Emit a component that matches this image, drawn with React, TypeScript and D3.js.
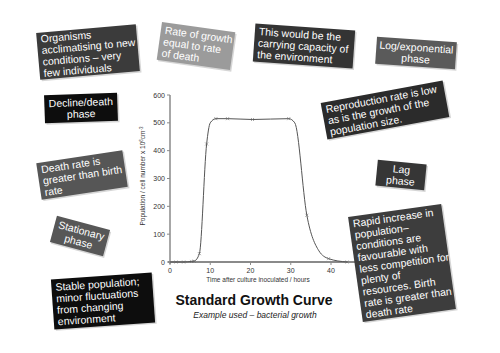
import React from "react";
import * as d3 from "d3";

const timeHours = [1.5, 3.4, 5.4, 6.0, 7.3, 9.1, 11.4, 14.3, 20.5, 29.5, 34.0, 39.4, 44.0];
const population = [0, 0, 2, 3, 30, 424, 515, 515, 512, 515, 168, 12, 0];
const curveTime = [0, 1.5, 3.4, 5.4, 6.0, 7.3, 9.1, 10.0, 11.4, 14.3, 20.5, 29.5, 31.0, 34.0, 37.0, 39.4, 44.0];
const curvePop = [0, 0, 0, 2, 3, 30, 424, 500, 515, 515, 512, 515, 500, 168, 40, 12, 0];
const yTicks = [0, 100, 200, 300, 400, 500, 600];
const xTicks = [0, 10, 20, 30, 40];

const boxTexts = [
  ["Organisms", "acclimatising to new", "conditions – very", "few individuals"],
  ["Rate of growth", "equal to rate", "of death"],
  ["This would be the", "carrying capacity of", "the environment"],
  ["Log/exponential", "phase"],
  ["Decline/death", "phase"],
  ["Reproduction rate is low", "as is the growth of the", "population size."],
  ["Lag", "phase"],
  ["Death rate is", "greater than birth", "rate"],
  ["Stationary", "phase"],
  ["Stable population;", "minor fluctuations", "from changing", "environment"],
  ["Rapid increase in", "population–", "conditions are", "favourable with", "less competition for", "plenty of", "resources. Birth", "rate is greater than", "death rate"],
];

const boxLayout = [
  { cx: 88, cy: 52, w: 100, h: 47, a: -5, fill: "#3b3b3b", center: false },
  { cx: 196, cy: 46, w: 74, h: 38, a: 8, fill: "#9b9b9b", center: false },
  { cx: 304, cy: 46, w: 100, h: 38, a: 4, fill: "#343434", center: false },
  { cx: 416, cy: 53, w: 80, h: 27, a: 4, fill: "#5a5a5a", center: true },
  { cx: 81, cy: 108, w: 73, h: 28, a: -2, fill: "#0d0d0d", center: true },
  { cx: 385, cy: 110, w: 124, h: 37, a: -10.5, fill: "#2b2b2b", center: false },
  { cx: 401, cy: 175, w: 49, h: 26, a: 5.5, fill: "#363636", center: true },
  { cx: 82, cy: 175, w: 87, h: 37, a: -8.5, fill: "#565656", center: false },
  { cx: 80, cy: 236, w: 55, h: 27, a: 15, fill: "#575757", center: true },
  { cx: 103, cy: 301, w: 101, h: 50, a: -4, fill: "#0d0d0d", center: false },
  { cx: 402, cy: 263, w: 94, h: 106, a: -8, fill: "#3d3d3d", center: false },
];

export default function App() {
  const x = d3.scaleLinear().domain([0, 40]).range([170, 331]);
  const y = d3.scaleLinear().domain([0, 600]).range([262, 95]);
  const pts: [number, number][] = curveTime.map((t, i) => [t, curvePop[i]]);
  const line = d3
    .line<[number, number]>()
    .x((d) => x(d[0]))
    .y((d) => y(d[1]))
    .curve(d3.curveMonotoneX);
  const font = "Liberation Sans, Arial, sans-serif";
  return (
    <svg width={500} height={353} style={{ position: "absolute", left: 0, top: 0 }} fontFamily={font}>
      <rect width={500} height={353} fill="#fff" />
      {/* axes */}
      <line x1={x(0)} x2={x(0)} y1={y(600)} y2={y(0) + 2} stroke="#8a8a8a" strokeWidth={1.5} />
      <line x1={x(-0.5)} x2={x(46)} y1={y(0)} y2={y(0)} stroke="#8a8a8a" strokeWidth={2} />
      {yTicks.map((t) => (
        <g key={"y" + t}>
          <line x1={x(0) - 3} x2={x(0)} y1={y(t)} y2={y(t)} stroke="#8a8a8a" strokeWidth={1} />
          <text x={x(0) - 5} y={y(t) + 2.5} fontSize={7} textAnchor="end" fill="#333">
            {t}
          </text>
        </g>
      ))}
      {xTicks.map((t) => (
        <g key={"x" + t}>
          <line x1={x(t)} x2={x(t)} y1={y(0)} y2={y(0) + 3} stroke="#8a8a8a" strokeWidth={1} />
          <text x={x(t)} y={y(0) + 11} fontSize={7} textAnchor="middle" fill="#333">
            {t}
          </text>
        </g>
      ))}
      <text x={258} y={282} fontSize={6.5} textAnchor="middle" fill="#333">
        Time after culture inoculated / hours
      </text>
      <text transform="translate(145,176) rotate(-90)" fontSize={6.5} textAnchor="middle" fill="#333">
        Population / cell number x 10<tspan dy={-2} fontSize={4.5}>6</tspan>
        <tspan dy={2}>cm</tspan>
        <tspan dy={-2} fontSize={4.5}>-3</tspan>
      </text>
      <path d={line(pts) || ""} fill="none" stroke="#555" strokeWidth={1} />
      {timeHours.map((t, i) => (
        <g key={"m" + i} stroke="#666" strokeWidth={0.6}>
          <line x1={x(t) - 1.5} x2={x(t) + 1.5} y1={y(population[i]) - 1.5} y2={y(population[i]) + 1.5} />
          <line x1={x(t) - 1.5} x2={x(t) + 1.5} y1={y(population[i]) + 1.5} y2={y(population[i]) - 1.5} />
        </g>
      ))}
      <text x={254} y={305} fontSize={14} fontWeight="bold" textAnchor="middle" fill="#111">
        Standard Growth Curve
      </text>
      <text x={255} y={318} fontSize={8.5} fontStyle="italic" textAnchor="middle" fill="#222">
        Example used – bacterial growth
      </text>
      {boxLayout.map((b, i) => {
        const lines = boxTexts[i];
        const lh = 11.5;
        const startY = -((lines.length - 1) * lh) / 2 + 3.8;
        return (
          <g key={"b" + i} transform={`translate(${b.cx},${b.cy}) rotate(${b.a})`}>
            <rect x={-b.w / 2 + 1.5} y={-b.h / 2 + 1.5} width={b.w} height={b.h} fill="#bbb" opacity={0.6} />
            <rect x={-b.w / 2} y={-b.h / 2} width={b.w} height={b.h} fill={b.fill} />
            {lines.map((l, j) => (
              <text
                key={j}
                x={b.center ? 0 : -b.w / 2 + 4}
                y={startY + j * lh}
                fontSize={10.5}
                fill="#fff"
                textAnchor={b.center ? "middle" : "start"}
              >
                {l}
              </text>
            ))}
          </g>
        );
      })}
    </svg>
  );
}
